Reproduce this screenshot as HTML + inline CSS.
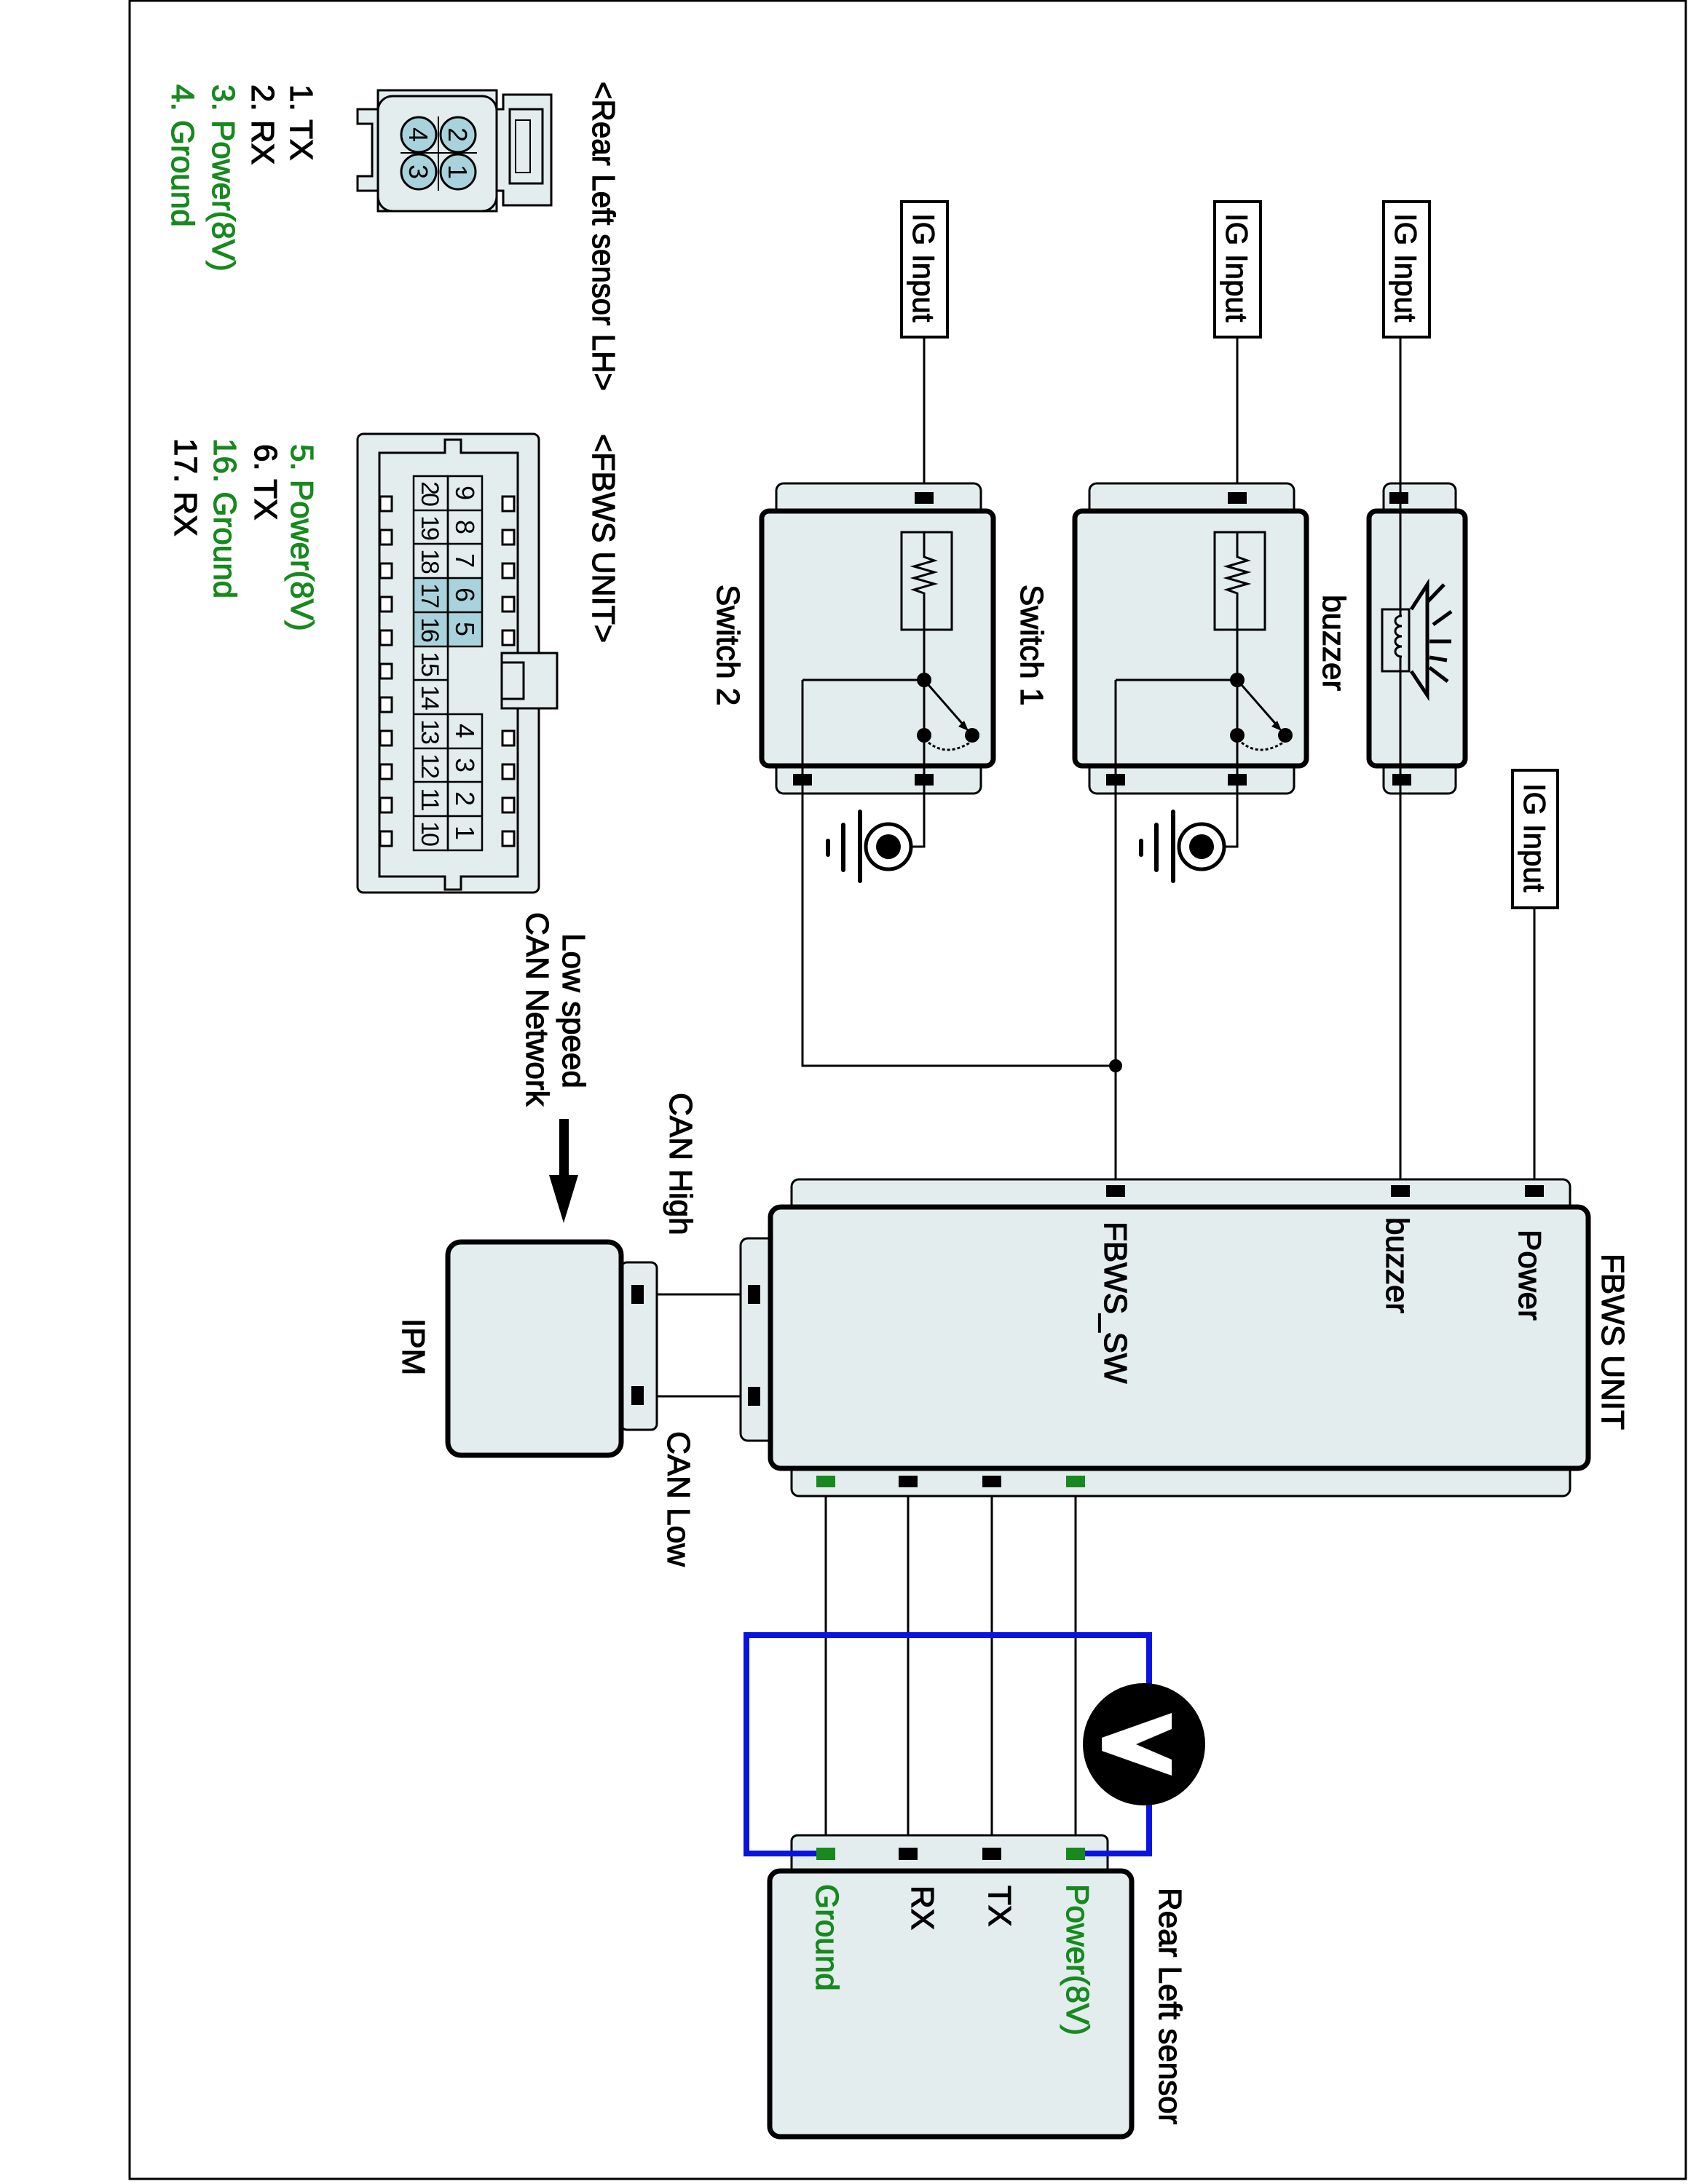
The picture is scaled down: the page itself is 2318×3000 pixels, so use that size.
<!DOCTYPE html>
<html><head><meta charset="utf-8"><style>html,body{margin:0;padding:0;background:#fff}svg{display:block}text{font-family:"Liberation Sans",Arial,sans-serif}</style></head>
<body>
<svg width="2318" height="3000" viewBox="0 0 2318 3000" xmlns="http://www.w3.org/2000/svg">
<rect x="178" y="1" width="2137" height="2992" fill="#fff" stroke="#000" stroke-width="3"/>
<defs>
<style>
.t{font-size:44px;fill:#000;stroke:#000;stroke-width:1.2}
.g{font-size:44px;fill:#17891f;stroke:#17891f;stroke-width:1.2}
.lb{fill:#e3edee;stroke:#000;stroke-width:3}
.bd{fill:#e3edee;stroke:#000;stroke-width:7}
.w{stroke:#000;stroke-width:3;fill:none}
</style>
</defs>

<text class="t" x="814" y="112" transform="rotate(90 814 112)" textLength="425" lengthAdjust="spacingAndGlyphs">&lt;Rear Left sensor LH&gt;</text>
<text class="t" x="814" y="596" transform="rotate(90 814 596)" textLength="287" lengthAdjust="spacingAndGlyphs">&lt;FBWS UNIT&gt;</text>
<text class="t" x="399" y="116" transform="rotate(90 399 116)">1. TX</text>
<text class="t" x="346" y="116" transform="rotate(90 346 116)">2. RX</text>
<text class="g" x="292" y="116" transform="rotate(90 292 116)">3. Power(8V)</text>
<text class="g" x="236" y="116" transform="rotate(90 236 116)">4. Ground</text>
<text class="g" x="400" y="610" transform="rotate(90 400 610)">5. Power(8V)</text>
<text class="t" x="350" y="610" transform="rotate(90 350 610)">6. TX</text>
<text class="g" x="294" y="602" transform="rotate(90 294 602)">16. Ground</text>
<text class="t" x="240" y="602" transform="rotate(90 240 602)">17. RX</text>

<g>
<path d="M491,150 h28 v-26 h163 v26 h9 v-20 h66 v152 h-66 v-20 h-9 v28 h-163 v-28 h-28 v-20 h20 v-72 h-20 z" class="lb"/>
<rect x="519" y="132" width="163" height="158" rx="20" fill="none" stroke="#000" stroke-width="3"/>
<rect x="700" y="150" width="45" height="102" fill="none" stroke="#000" stroke-width="3"/>
<rect x="708" y="165" width="20" height="72" fill="none" stroke="#000" stroke-width="2"/>
<line x1="602" y1="160" x2="602" y2="262" stroke="#000" stroke-width="2"/>
<line x1="550" y1="210" x2="655" y2="210" stroke="#000" stroke-width="2"/>
<g fill="#a9d3dc" stroke="#000" stroke-width="3">
<circle cx="629" cy="185" r="24"/><circle cx="629" cy="236" r="24"/>
<circle cx="575" cy="185" r="24"/><circle cx="575" cy="236" r="24"/>
</g>
<g font-size="36" text-anchor="middle">
<text x="616" y="185" transform="rotate(90 616 185)">2</text>
<text x="616" y="236" transform="rotate(90 616 236)">1</text>
<text x="562" y="185" transform="rotate(90 562 185)">4</text>
<text x="562" y="236" transform="rotate(90 562 236)">3</text>
</g>
</g>

<g>
<rect x="491" y="596" width="249" height="630" rx="8" class="lb"/>
<path d="M521,622 h90 v-18 h22 v18 h78 v582 h-78 v18 h-22 v-18 h-90 z" fill="#e3edee" stroke="#000" stroke-width="3"/>
<rect x="689" y="897" width="76" height="76" fill="#e3edee" stroke="#000" stroke-width="3"/>
<rect x="689" y="910" width="30" height="50" fill="none" stroke="#000" stroke-width="3"/>
<g fill="#a9d3dc"><rect x="615" y="794" width="47" height="94"/><rect x="568" y="794" width="47" height="94"/></g>
<g fill="none" stroke="#000" stroke-width="2.5">
<rect x="615" y="654" width="47" height="234"/>
<rect x="615" y="981" width="47" height="187"/>
<rect x="568" y="654" width="47" height="514"/>
<path d="M615,701h47M615,747h47M615,794h47M615,841h47M615,1028h47M615,1074h47M615,1121h47"/>
<path d="M568,701h47M568,747h47M568,794h47M568,841h47M568,888h47M568,934h47M568,981h47M568,1028h47M568,1074h47M568,1121h47"/>
</g>
<g font-size="36" text-anchor="middle">
<text x="626" y="677" transform="rotate(90 626 677)">9</text>
<text x="626" y="724" transform="rotate(90 626 724)">8</text>
<text x="626" y="770" transform="rotate(90 626 770)">7</text>
<text x="626" y="817" transform="rotate(90 626 817)">6</text>
<text x="626" y="864" transform="rotate(90 626 864)">5</text>
<text x="626" y="1004" transform="rotate(90 626 1004)">4</text>
<text x="626" y="1051" transform="rotate(90 626 1051)">3</text>
<text x="626" y="1097" transform="rotate(90 626 1097)">2</text>
<text x="626" y="1144" transform="rotate(90 626 1144)">1</text>
</g>
<g font-size="34" text-anchor="middle" letter-spacing="-3">
<text x="579" y="677" transform="rotate(90 579 677)">20</text>
<text x="579" y="724" transform="rotate(90 579 724)">19</text>
<text x="579" y="770" transform="rotate(90 579 770)">18</text>
<text x="579" y="817" transform="rotate(90 579 817)">17</text>
<text x="579" y="864" transform="rotate(90 579 864)">16</text>
<text x="579" y="911" transform="rotate(90 579 911)">15</text>
<text x="579" y="957" transform="rotate(90 579 957)">14</text>
<text x="579" y="1004" transform="rotate(90 579 1004)">13</text>
<text x="579" y="1051" transform="rotate(90 579 1051)">12</text>
<text x="579" y="1097" transform="rotate(90 579 1097)">11</text>
<text x="579" y="1144" transform="rotate(90 579 1144)">10</text>
</g>
<g fill="#fff" stroke="#000" stroke-width="3">
<rect x="522" y="682" width="16" height="20"/><rect x="522" y="728" width="16" height="20"/><rect x="522" y="774" width="16" height="20"/><rect x="522" y="820" width="16" height="20"/><rect x="522" y="866" width="16" height="20"/><rect x="522" y="912" width="16" height="20"/><rect x="522" y="958" width="16" height="20"/><rect x="522" y="1004" width="16" height="20"/><rect x="522" y="1050" width="16" height="20"/><rect x="522" y="1096" width="16" height="20"/><rect x="522" y="1142" width="16" height="20"/>
<rect x="690" y="682" width="16" height="20"/><rect x="690" y="728" width="16" height="20"/><rect x="690" y="774" width="16" height="20"/><rect x="690" y="820" width="16" height="20"/><rect x="690" y="866" width="16" height="20"/><rect x="690" y="1004" width="16" height="20"/><rect x="690" y="1050" width="16" height="20"/><rect x="690" y="1096" width="16" height="20"/><rect x="690" y="1142" width="16" height="20"/>
</g>
</g>

<g fill="#fff" stroke="#000" stroke-width="4">
<rect x="1238" y="277" width="63" height="186"/>
<rect x="1668" y="277" width="63" height="186"/>
<rect x="1900" y="277" width="63" height="186"/>
<rect x="2077" y="1058" width="62" height="189"/>
</g>
<g font-size="42" stroke="#000" stroke-width="1">
<text x="1254" y="293" transform="rotate(90 1254 293)">IG Input</text>
<text x="1684" y="293" transform="rotate(90 1684 293)">IG Input</text>
<text x="1916" y="293" transform="rotate(90 1916 293)">IG Input</text>
<text x="2093" y="1076" transform="rotate(90 2093 1076)">IG Input</text>
</g>

<g class="w">
<path d="M1269,463V1163H1252"/>
<path d="M1699,463V1163H1682"/>
<path d="M1923,463V1636"/>
<path d="M2107,1247V1636"/>
<path d="M1102,934V1464H1532"/>
<path d="M1532,934V1636"/>
<path d="M874,1778H1035"/>
<path d="M874,1918H1035"/>
<path d="M1134,2035V2546M1247,2035V2546M1362,2035V2546M1477,2035V2546"/>
</g>
<circle cx="1532" cy="1464" r="9"/>

<g id="sw">
<rect x="1066" y="664" width="281" height="426" rx="10" class="lb"/>
<rect x="1046" y="702" width="318" height="350" rx="10" class="bd"/>
<rect x="1238" y="731" width="69" height="134" fill="none" stroke="#000" stroke-width="3"/>
<path d="M1269,731V765l14,5-28,8 28,8-28,8 28,8-28,8 14,5V865V1010" fill="none" stroke="#000" stroke-width="3"/>
<path d="M1102,934H1269" fill="none" stroke="#000" stroke-width="3"/>
<path d="M1102,934V1090M1269,1010V1090" fill="none" stroke="#000" stroke-width="3"/>
<circle cx="1269" cy="934" r="10"/><circle cx="1335" cy="1010" r="10"/><circle cx="1269" cy="1010" r="10"/>
<path d="M1269,934L1325,998" stroke="#000" stroke-width="3"/>
<path d="M1330,1004l-14,-6 8,-8z"/>
<path d="M1275,1020Q1300,1040 1332,1020" fill="none" stroke="#000" stroke-width="3" stroke-dasharray="4,3"/>
<rect x="1256" y="676" width="26" height="16"/>
<rect x="1256" y="1063" width="26" height="16"/>
<rect x="1089" y="1063" width="26" height="16"/>
<circle cx="1220" cy="1163" r="31" fill="#fff" stroke="#000" stroke-width="5"/>
<circle cx="1220" cy="1163" r="17"/>
<path d="M1181,1115V1210M1158,1133V1195M1137,1155V1174" stroke="#000" stroke-width="6" stroke-linecap="round"/>
</g>
<use href="#sw" transform="translate(430,0)"/>
<text class="t" x="985" y="803" transform="rotate(90 985 803)">Switch 2</text>
<text class="t" x="1402" y="803" transform="rotate(90 1402 803)">Switch 1</text>

<rect x="1900" y="664" width="99" height="426" rx="10" class="lb"/>
<rect x="1880" y="702" width="132" height="350" rx="10" class="bd"/>
<line x1="1923" y1="663" x2="1923" y2="1090" stroke="#000" stroke-width="3"/>
<rect x="1908" y="676" width="26" height="16"/><rect x="1912" y="1063" width="26" height="16"/>
<rect x="1898" y="837" width="37" height="85" fill="none" stroke="#000" stroke-width="3"/>
<path d="M1925,846c-12,0 -12,14 0,14c-12,0 -12,14 0,14c-12,0 -12,14 0,14c-12,0 -12,14 0,14" fill="#e3edee" stroke="#000" stroke-width="3"/>
<path d="M1938,837L1960,803V955L1938,922" fill="none" stroke="#000" stroke-width="5"/>
<path d="M1960,827L1983,803M1968,858L1993,840M1963,881H1993M1963,903L1987,907M1963,917L1988,936" stroke="#000" stroke-width="5"/>
<text class="t" x="1817" y="817" transform="rotate(90 1817 817)">buzzer</text>

<rect x="1087" y="1620" width="1069" height="435" rx="10" class="lb"/>
<rect x="1017" y="1701" width="60" height="278" rx="10" class="lb"/>
<rect x="1058" y="1658" width="1123" height="359" rx="14" class="bd"/>
<rect x="1519" y="1628" width="26" height="16"/><rect x="1910" y="1628" width="26" height="16"/><rect x="2094" y="1628" width="26" height="16"/>
<rect x="1027" y="1765" width="17" height="26"/><rect x="1027" y="1905" width="17" height="26"/>
<rect x="1121" y="2027" width="26" height="16" fill="#17891f"/><rect x="1234" y="2027" width="26" height="16"/><rect x="1349" y="2027" width="26" height="16"/><rect x="1464" y="2027" width="26" height="16" fill="#17891f"/>
<text class="t" x="2200" y="1722" transform="rotate(90 2200 1722)">FBWS UNIT</text>
<text class="t" x="2086" y="1689" transform="rotate(90 2086 1689)">Power</text>
<text class="t" x="1904" y="1672" transform="rotate(90 1904 1672)">buzzer</text>
<text class="t" x="1517" y="1678" transform="rotate(90 1517 1678)">FBWS_SW</text>

<rect x="853" y="1734" width="49" height="230" rx="8" class="lb"/>
<rect x="615" y="1706" width="238" height="293" rx="18" class="bd"/>
<rect x="867" y="1765" width="17" height="26"/><rect x="867" y="1904" width="17" height="26"/>
<text class="t" x="553" y="1811" transform="rotate(90 553 1811)">IPM</text>
<text class="t" x="920" y="1501" transform="rotate(90 920 1501)">CAN High</text>
<text class="t" x="917" y="1966" transform="rotate(90 917 1966)">CAN Low</text>
<text class="t" x="773" y="1282" transform="rotate(90 773 1282)">Low speed</text>
<text class="t" x="723" y="1253" transform="rotate(90 723 1253)">CAN Network</text>
<rect x="768" y="1537" width="13" height="80"/>
<path d="M754,1614H794L774,1680z"/>

<rect x="1087" y="2521" width="434" height="60" rx="8" class="lb"/>
<rect x="1057" y="2570" width="497" height="365" rx="14" class="bd"/>
<path d="M1134,2546H1025V2246H1578V2546H1477" fill="none" stroke="#0a14e0" stroke-width="8"/>
<rect x="1121" y="2538" width="26" height="17" fill="#17891f"/><rect x="1234" y="2538" width="26" height="17"/><rect x="1349" y="2538" width="26" height="17"/><rect x="1464" y="2538" width="26" height="17" fill="#17891f"/>
<circle cx="1571" cy="2396" r="84"/>
<path d="M1609,2353V2375L1560,2396L1609,2417V2439L1513,2405V2387z" fill="#fff"/>
<text class="g" x="1121" y="2588" transform="rotate(90 1121 2588)">Ground</text>
<text class="t" x="1252" y="2590" transform="rotate(90 1252 2590)">RX</text>
<text class="t" x="1358" y="2590" transform="rotate(90 1358 2590)">TX</text>
<text class="g" x="1465" y="2588" transform="rotate(90 1465 2588)">Power(8V)</text>
<text class="t" x="1592" y="2593" transform="rotate(90 1592 2593)">Rear Left sensor</text>
</svg>
</body></html>
